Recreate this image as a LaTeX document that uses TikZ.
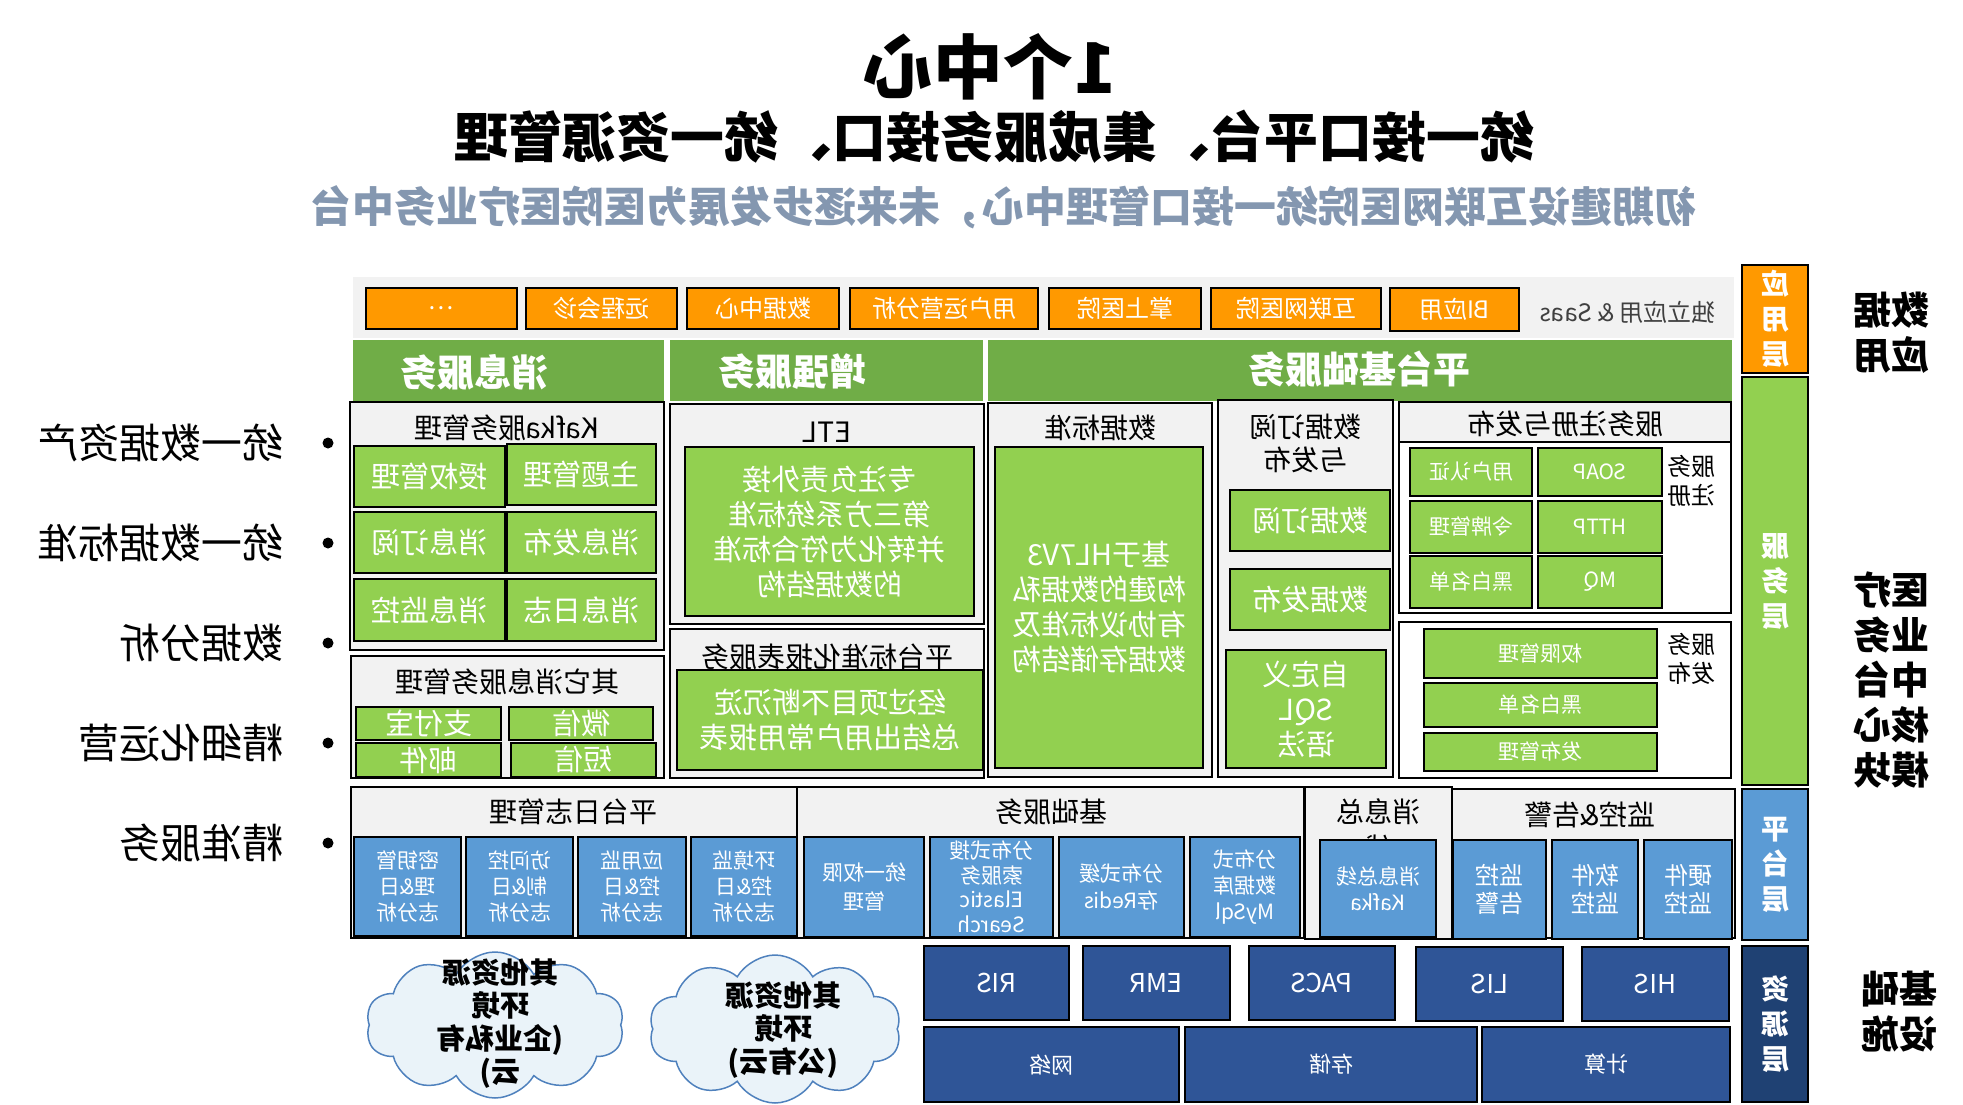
\documentclass[tikz,border=0pt]{standalone}
\usepackage{fontspec}
\setmainfont{Noto Sans CJK SC}
\usetikzlibrary{shapes.symbols}

\definecolor{appor}{HTML}{FF9900}
\definecolor{hdrgreen}{HTML}{70AD47}
\definecolor{boxgreen}{HTML}{92D050}
\definecolor{panelgray}{HTML}{F2F2F2}
\definecolor{boxblue}{HTML}{5B9BD5}
\definecolor{resblue}{HTML}{2F5597}
\definecolor{resbar}{HTML}{1F4173}
\definecolor{goalblue}{HTML}{8497B0}
\definecolor{cloudfill}{HTML}{EAF3F9}
\definecolor{cloudline}{HTML}{4F81BD}

\tikzset{
  span/.style args={#1/#2/#3/#4}{at={({(#1+#3)/2},{(#2+#4)/2})},
    minimum width={#3-#1}, minimum height={#4-#2}},
  cell/.style={draw=black, line width=2.5pt, inner sep=0pt, align=center, text=white},
  obox/.style={cell, fill=appor, font=\fontsize{24}{28}\selectfont},
  hdr/.style={fill=hdrgreen, inner sep=0pt},
  hdrtext/.style={text=white, font=\bfseries\fontsize{37}{40}\selectfont},
  panel/.style={draw=black, line width=2.5pt, fill=panelgray, inner sep=0pt},
  ptext/.style={align=center, font=\fontsize{28}{33}\selectfont},
  gbox/.style={cell, fill=boxgreen, font=\fontsize{29}{35}\selectfont},
  sgbox/.style={cell, fill=boxgreen, font=\fontsize{21}{25}\selectfont},
  bbox/.style={cell, fill=boxblue, font=\fontsize{21}{26}\selectfont},
  dbox/.style={cell, fill=resblue, font=\fontsize{26}{30}\selectfont},
  layer/.style={cell, font=\bfseries\fontsize{28}{35}\selectfont},
  side/.style={align=center, font=\bfseries\fontsize{38}{45}\selectfont},
  goal/.style={anchor=west, font=\fontsize{41}{45}\selectfont},
  cloudy/.style={cloud, cloud puffs=10, cloud puff arc=120, cloud ignores aspect,
    draw=cloudline, line width=1.5pt, fill=cloudfill, inner sep=0pt},
  cloudtext/.style={align=center, font=\bfseries\fontsize{29}{33}\selectfont},
}

\begin{document}
% the whole chart is drawn mirrored, text included
\begin{tikzpicture}[x=-1pt, y=-1pt, xscale=-1, every node/.append style={transform shape}]
  \useasboundingbox (0,0) rectangle (1963,1105);

  % titles
  \node[font=\bfseries\fontsize{70}{70}\selectfont] (title) at (990,67) {1个中心};
  \node[font=\bfseries\fontsize{54}{54}\selectfont] (subtitle) at (994,137) {统一接口平台、集成服务接口、统一资源管理};
  \node[text=goalblue, font=\bfseries\fontsize{42}{42}\selectfont] (aim) at (1003,207)
    {初期建设互联网医院统一接口管理中心，未来逐步发展为医院医疗业务中台};

  % application layer
  \node[fill=panelgray, inner sep=0pt, span=353/277/1734/338] (appband) {};
  \node[obox, span=366/288/517/329] (more) {…};
  \node[obox, span=526/288/677/329] (remote) {远程会诊};
  \node[obox, span=687/288/839/329] (datacenter) {数据中心};
  \node[obox, span=850/288/1038/329] (userop) {用户运营分析};
  \node[obox, span=1049/288/1201/329] (mobile) {掌上医院};
  \node[obox, span=1211/288/1381/329] (nethosp) {互联网医院};
  \node[obox, span=1390/288/1519/331] (biapp) {BI应用};
  \node[text=black!75, font=\fontsize{24}{28}\selectfont] (saas) at (1628,312) {独立应用 \& Saas};

  % service headers
  \node[hdr, span=353/340/664/401] (msghdr) {};
  \node[hdrtext] (msgtitle) at (474,372) {消息服务};
  \node[hdr, span=670/340/983/401] (enhhdr) {};
  \node[hdrtext] (enhtitle) at (792,372) {增强服务};
  \node[hdr, span=988/340/1732/401] (basehdr) {};
  \node[hdrtext] (basetitle) at (1359,369) {平台基础服务};

  % message service
  \node[panel, span=350/402/664/650] (kafkapanel) {};
  \node[ptext] (kafkalabel) at (507,428) {Kafka服务管理};
  \node[gbox, span=354/446/505/507] (grant) {授权管理};
  \node[gbox, span=507/444/656/505] (topic) {主题管理};
  \node[gbox, span=354/512/505/573] (msgsub) {消息订阅};
  \node[gbox, span=507/512/656/573] (msgpub) {消息发布};
  \node[gbox, span=354/579/505/641] (msgmon) {消息监控};
  \node[gbox, span=507/579/656/641] (msglog) {消息日志};
  \node[panel, span=351/656/664/778] (otherpanel) {};
  \node[ptext] (otherlabel) at (507,682) {其它消息服务管理};
  \node[gbox, span=356/707/501/740] (alipay) {支付宝};
  \node[gbox, span=509/707/653/740] (wechat) {微信};
  \node[gbox, span=356/743/501/777] (mail) {邮件};
  \node[gbox, span=511/743/656/777] (sms) {短信};

  % enhanced service
  \node[panel, span=670/404/984/624] (etlpanel) {};
  \node[ptext] (etllabel) at (827,432) {ETL};
  \node[gbox, span=685/447/974/616] (etl) {专注负责外接\\第三方系统标准\\并转化为符合标准\\的数据结构};
  \node[panel, span=670/629/984/778] (rptpanel) {};
  \node[ptext] (rptlabel) at (827,657) {平台标准化报表服务};
  \node[gbox, span=677/670/983/770] (report) {经过项目不断沉淀\\总结出用户常用报表};

  % platform base service
  \node[panel, span=988/403/1212/777] (stdpanel) {};
  \node[ptext] (stdlabel) at (1100,428) {数据标准};
  \node[gbox, span=995/447/1203/768] (hl7) {基于HL7V3\\构建的数据私\\有协议标准及\\数据存储结构};
  \node[panel, span=1218/400/1393/777] (dspanel) {};
  \node[ptext] (dslabel) at (1305,443) {数据订阅\\与发布};
  \node[gbox, span=1230/490/1390/551] (datasub) {数据订阅};
  \node[gbox, span=1230/569/1390/630] (datapub) {数据发布};
  \node[gbox, span=1226/650/1386/768] (sql) {自定义\\SQL\\语法};
  \node[panel, span=1399/402/1731/442] (regpanelhead) {};
  \node[ptext] (reglabel) at (1565,424) {服务注册与发布};
  \node[panel, fill=white, span=1399/442/1731/613] (regpanel) {};
  \node[sgbox, span=1410/448/1532/496] (userauth) {用户认证};
  \node[sgbox, span=1538/448/1662/496] (soap) {SOAP};
  \node[sgbox, span=1410/501/1532/553] (token) {令牌管理};
  \node[sgbox, span=1538/501/1662/553] (http) {HTTP};
  \node[sgbox, span=1410/556/1532/608] (blackwhite) {黑白名单};
  \node[sgbox, span=1538/556/1662/608] (mq) {MQ};
  \node[align=center, font=\fontsize{24}{29}\selectfont] (regside) at (1691,481) {服务\\注册};
  \node[panel, fill=white, span=1399/622/1731/778] (pubpanel) {};
  \node[sgbox, span=1424/629/1657/678] (perm) {权限管理};
  \node[sgbox, span=1424/683/1657/727] (blackwhite2) {黑白名单};
  \node[sgbox, span=1424/733/1657/771] (pubmgr) {发布管理};
  \node[align=center, font=\fontsize{24}{29}\selectfont] (pubside) at (1691,659) {服务\\发布};

  % platform layer
  \node[panel, span=351/787/797/938] (logpanel) {};
  \node[ptext] (loglabel) at (573,812) {平台日志管理};
  \node[bbox, span=354/837/461/936] (keylog) {密钥管\\理\&日\\志分析};
  \node[bbox, span=466/837/573/936] (acclog) {访问控\\制\&日\\志分析};
  \node[bbox, span=578/837/686/936] (applog) {应用监\\控\&日\\志分析};
  \node[bbox, span=691/837/797/936] (envlog) {环境监\\控\&日\\志分析};
  \node[panel, span=797/787/1304/938] (basepanel) {};
  \node[ptext] (baselabel) at (1051,812) {基础服务};
  \node[bbox, font=\fontsize{21}{29}\selectfont, span=804/837/924/937] (uniperm) {统一权限\\管理};
  \node[bbox, font=\fontsize{21}{24.5}\selectfont, span=930/837/1053/937] (search) {分布式搜\\索服务\\Elastic\\Search};
  \node[bbox, font=\fontsize{21}{27}\selectfont, span=1059/837/1184/937] (redis) {分布式缓\\存Redis};
  \node[bbox, span=1190/837/1300/937] (mysql) {分布式\\数据库\\MySql};
  \node[panel, span=1305/787/1452/939] (buspanel) {};
  \node[ptext, font=\fontsize{28}{36}\selectfont] (buslabel) at (1378,830) {消息总\\线};
  \node[bbox, span=1320/840/1436/937] (kafka) {消息总线\\Kafka};
  \node[panel, span=1452/789/1735/938] (alarmpanel) {};
  \node[ptext] (alarmlabel) at (1590,815) {监控\&告警};
  \node[bbox, font=\fontsize{24}{28}\selectfont, span=1453/840/1546/939] (alarm) {监控\\告警};
  \node[bbox, font=\fontsize{24}{28}\selectfont, span=1552/840/1638/939] (swmon) {软件\\监控};
  \node[bbox, font=\fontsize{24}{28}\selectfont, span=1644/840/1732/939] (hwmon) {硬件\\监控};

  % resource layer
  \node[dbox, span=924/946/1069/1020] (ris) {RIS};
  \node[dbox, span=1083/946/1230/1020] (emr) {EMR};
  \node[dbox, span=1249/946/1395/1020] (pacs) {PACS};
  \node[dbox, span=1416/947/1563/1021] (lis) {LIS};
  \node[dbox, span=1582/947/1729/1021] (his) {HIS};
  \node[dbox, font=\fontsize{22}{26}\selectfont, span=924/1027/1179/1102] (network) {网络};
  \node[dbox, font=\fontsize{22}{26}\selectfont, span=1185/1027/1477/1102] (storage) {存储};
  \node[dbox, font=\fontsize{22}{26}\selectfont, span=1482/1027/1730/1102] (compute) {计算};

  % clouds
  \node[cloudy, span=366/952/624/1098] (privcloud) {};
  \node[cloudtext] (privtext) at (500,1024) {其他资源\\环境\\(企业私有\\云)};
  \node[cloudy, span=649/955/901/1103] (pubcloud) {};
  \node[cloudtext] (pubtext) at (783,1030) {其他资源\\环境\\(公有云)};

  % layer bars
  \node[layer, fill=appor, span=1742/265/1808/373] (applayer) {应\\用\\层};
  \node[layer, fill=boxgreen, span=1742/377/1808/785] (svclayer) {服\\务\\层};
  \node[layer, fill=boxblue, span=1742/789/1808/940] (pltlayer) {平\\台\\层};
  \node[layer, fill=resbar, span=1742/946/1808/1102] (reslayer) {资\\源\\层};

  % right side notes
  \node[side] (dataapp) at (1891,333) {数据\\应用};
  \node[side] (core) at (1891,680) {医疗\\业务\\中台\\核心\\模块};
  \node[side] (infra) at (1899,1012) {基础\\设施};

  % left goals
  \foreach \y/\txt/\nm in {443/统一数据资产/assets, 543/统一数据标准/standard,
      643/数据分析/analysis, 743/精细化运营/operation, 843/精准服务/service} {
    \fill (328,\y) circle (5.5);
    \node[goal] (\nm) at (287,\y) {\txt};
  }
\end{tikzpicture}
\end{document}
